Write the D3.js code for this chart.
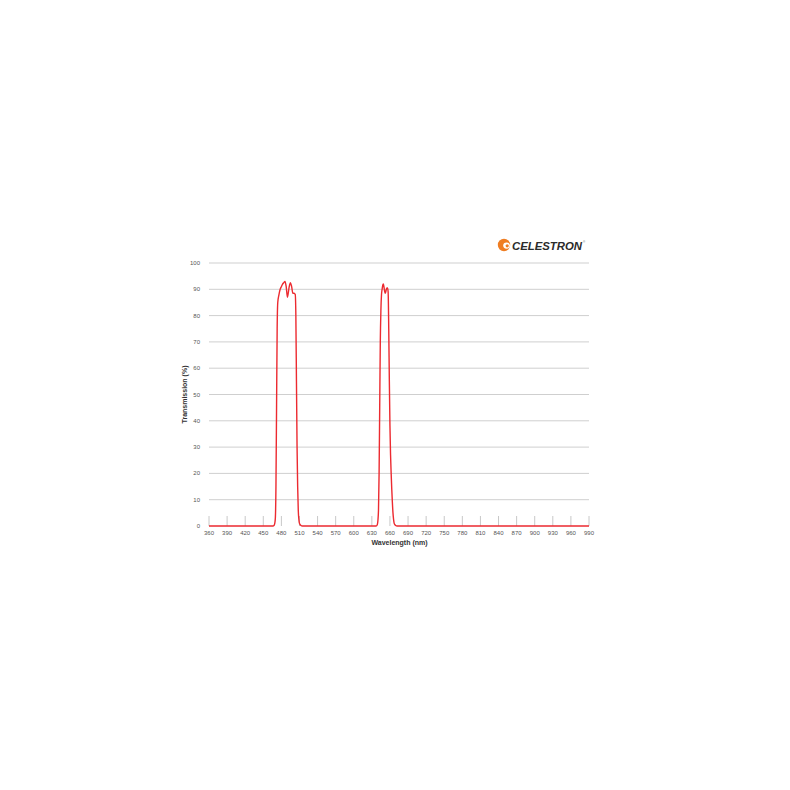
<!DOCTYPE html>
<html>
<head>
<meta charset="utf-8">
<script src="https://cdn.jsdelivr.net/npm/d3@7"></script>
<style>
  html, body { margin: 0; padding: 0; background: #ffffff; }
  svg { display: block; }
  text { font-family: "Liberation Sans", Arial, Helvetica, sans-serif; }
</style>
</head>
<body>
<svg id="chart" width="790" height="790"></svg>
<script>
// ---- data ----
const wavelengths = [360, 460, 466, 468, 469, 470, 471, 472, 473, 474, 476, 478, 480, 482, 484, 486, 488, 490, 491, 493, 495, 497, 499, 501, 503, 504, 505, 506, 507, 508, 509, 510, 512, 515,
  630, 637, 639, 640, 641, 642, 643, 644, 645, 646, 647, 648, 649, 650, 651, 652, 653, 654, 655, 656, 657, 658, 659, 660, 661, 662, 663, 664, 665, 666, 667, 669, 672, 990];
const transmission = [0, 0, 0, 0.3, 1, 3, 15, 45, 75, 85, 88, 90, 91, 92, 92.5, 93, 91, 87, 88, 91, 92.5, 91, 88.5, 88.5, 88, 80, 55, 30, 15, 6, 2.5, 1, 0.3, 0,
  0, 0, 0.5, 2, 6, 20, 45, 70, 82, 88, 90, 91.5, 92, 91, 89.5, 88.5, 89, 90, 90.5, 90.5, 89, 75, 55, 38, 27, 20, 14, 9, 5, 2.5, 1, 0.3, 0, 0];
const xTicks = [360, 390, 420, 450, 480, 510, 540, 570, 600, 630, 660, 690, 720, 750, 780, 810, 840, 870, 900, 930, 960, 990];
const yTicks = [0, 10, 20, 30, 40, 50, 60, 70, 80, 90, 100];

const svg = d3.select("#chart");
const x = d3.scaleLinear().domain([360, 990]).range([209, 589]);
const y = d3.scaleLinear().domain([0, 100]).range([526, 263]);

// gridlines
svg.append("g").selectAll("line").data(yTicks.filter(d => d > 0)).join("line")
  .attr("x1", x(360)).attr("x2", x(990))
  .attr("y1", d => y(d)).attr("y2", d => y(d))
  .attr("stroke", "#cfcfcf").attr("stroke-width", 1);

// y labels
svg.append("g").selectAll("text").data(yTicks).join("text")
  .attr("x", 200).attr("y", d => y(d) + 2)
  .attr("text-anchor", "end")
  .attr("font-size", 6).attr("fill", "#555")
  .text(d => d);

// x ticks (inside, upward)
svg.append("g").selectAll("line").data(xTicks).join("line")
  .attr("x1", d => x(d)).attr("x2", d => x(d))
  .attr("y1", y(0)).attr("y2", y(0) - 10)
  .attr("stroke", "#c8c8c8").attr("stroke-width", 1);

// x labels
svg.append("g").selectAll("text").data(xTicks).join("text")
  .attr("x", d => x(d)).attr("y", 534.5)
  .attr("text-anchor", "middle")
  .attr("font-size", 6).attr("fill", "#555")
  .text(d => d);

// axis titles
svg.append("text").attr("x", 399.5).attr("y", 545)
  .attr("text-anchor", "middle").attr("font-size", 7).attr("font-weight", "bold").attr("fill", "#333")
  .text("Wavelength (nm)");
svg.append("text")
  .attr("transform", `translate(187,${(y(0) + y(100)) / 2}) rotate(-90)`)
  .attr("text-anchor", "middle").attr("font-size", 7).attr("font-weight", "bold").attr("fill", "#333")
  .text("Transmission (%)");

// curve
const pts = wavelengths.map((w, i) => [w, transmission[i]]);
const line = d3.line().x(d => x(d[0])).y(d => y(d[1])).curve(d3.curveMonotoneX);
svg.append("path").datum(pts).attr("d", line)
  .attr("fill", "none").attr("stroke", "#ec2a30").attr("stroke-width", 1.4)
  .attr("stroke-linejoin", "round");

// logo
const logo = svg.append("g").attr("transform", "translate(504,245)");
logo.append("circle").attr("r", 6.2).attr("fill", "#ef7d22");
logo.append("ellipse").attr("cx", 2.6).attr("cy", 0.6).attr("rx", 3.4).attr("ry", 3.1).attr("fill", "#ffffff");
logo.append("circle").attr("cx", 3.2).attr("cy", 0.8).attr("r", 1.6).attr("fill", "#ef7d22");
svg.append("text").attr("x", 512).attr("y", 249.5)
  .attr("font-size", 11.5).attr("font-weight", "900").attr("font-style", "italic")
  .attr("fill", "#2b2b2b").attr("textLength", 70).attr("lengthAdjust", "spacingAndGlyphs")
  .text("CELESTRON");
svg.append("text").attr("x", 583).attr("y", 243).attr("font-size", 3).attr("fill", "#555").text("®");
</script>
</body>
</html>
